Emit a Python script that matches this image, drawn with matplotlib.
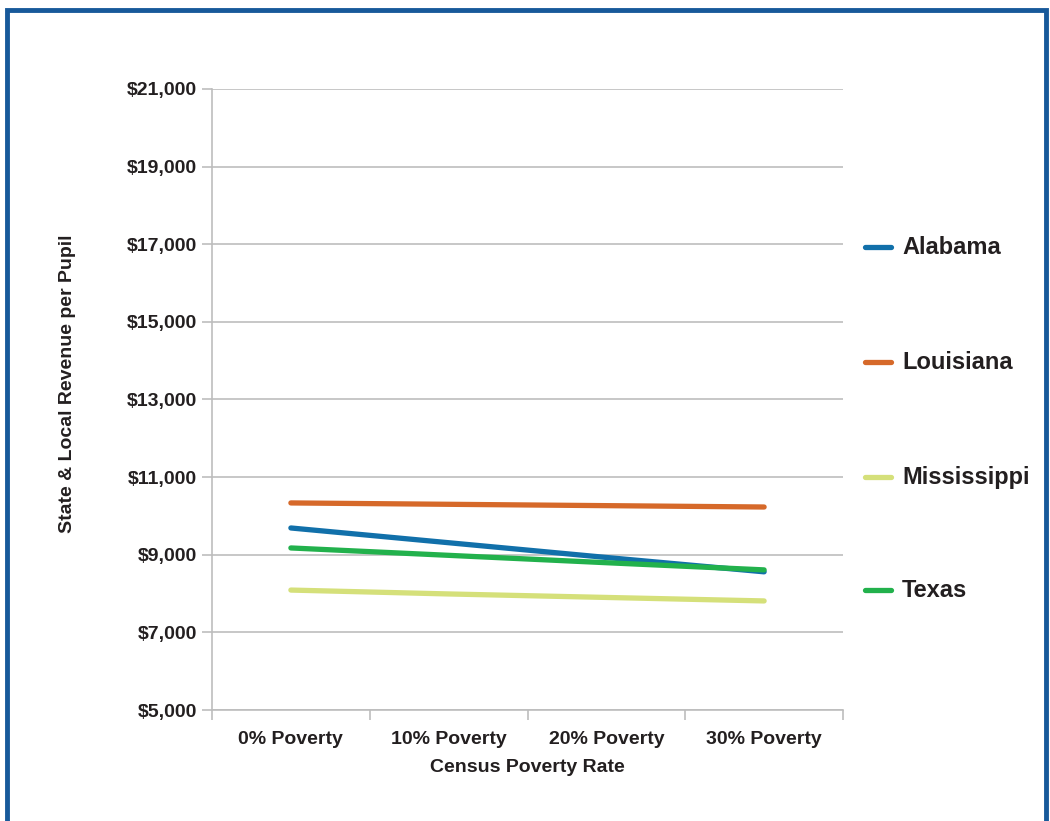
import matplotlib.pyplot as plt
from matplotlib.patches import Rectangle
from matplotlib.ticker import FuncFormatter

plt.rcParams['font.family'] = ['Liberation Sans', 'DejaVu Sans']

categories = ["0% Poverty", "10% Poverty", "20% Poverty", "30% Poverty"]
alabama = [9690, 9310, 8930, 8560]
louisiana = [10335, 10300, 10265, 10230]
mississippi = [8090, 7990, 7900, 7810]
texas = [9175, 8985, 8795, 8610]

series = [
    ("Alabama", alabama, "#1170aa"),
    ("Louisiana", louisiana, "#d6692a"),
    ("Mississippi", mississippi, "#d5e07a"),
    ("Texas", texas, "#22b14c"),
]

fig = plt.figure(figsize=(10.5, 8.21), dpi=100)
ax = fig.add_axes([212 / 1050, 1 - 710 / 821, 631 / 1050, 621 / 821])

x = list(range(len(categories)))
for name, vals, col in series:
    ax.plot(x, vals, color=col, lw=3.8, solid_capstyle='round', label=name)

ax.set_xlim(-0.5, len(categories) - 0.5)
ax.set_ylim(5000, 21000)
ax.set_yticks(range(5000, 21001, 2000))
ax.yaxis.set_major_formatter(FuncFormatter(lambda v, p: f"${v:,.0f}"))
ax.grid(axis='y', color='#bdbdbd', lw=1.2)
ax.set_axisbelow(True)

# category boundaries as ticks, labels at centers
ax.set_xticks([i - 0.5 for i in range(len(categories) + 1)])
ax.set_xticklabels([])
ax.set_xticks(x, minor=True)
ax.set_xticklabels(categories, minor=True, fontsize=14, fontweight='bold', color='#231f20')
ax.tick_params(axis='x', which='minor', length=0, pad=15)
ax.tick_params(axis='x', which='major', length=7, color='#bdbdbd', width=1.2)
ax.tick_params(axis='y', length=7, color='#bdbdbd', width=1.2, labelsize=14,
               labelcolor='#231f20', pad=4)
for lab in ax.get_yticklabels():
    lab.set_fontweight('bold')

for s in ['top', 'right']:
    ax.spines[s].set_visible(False)
for s in ['left', 'bottom']:
    ax.spines[s].set_color('#bdbdbd')
    ax.spines[s].set_linewidth(1.2)

ax.set_xlabel("Census Poverty Rate", fontsize=14, fontweight='bold', color='#231f20', labelpad=8)
ax.set_ylabel("State & Local Revenue per Pupil", fontsize=14, fontweight='bold',
              color='#231f20')
ax.yaxis.set_label_coords(-0.2155, 0.525)

# legend drawn to the right of the plot
leg_y = [247, 362, 477, 590]
for (name, vals, col), yy in zip(series, leg_y):
    fy = 1 - yy / 821
    fig.add_artist(plt.Line2D([865 / 1050, 891 / 1050], [fy, fy], color=col, lw=3.8,
                              solid_capstyle='round', transform=fig.transFigure))
    fig.text(902 / 1050, fy, name, fontsize=17, fontweight='bold', color='#231f20',
             va='center', ha='left')

# blue frame
fig.add_artist(Rectangle((7 / 1050, -0.05), 1039 / 1050, 1.05 - 10 / 821, fill=False,
                         edgecolor='#17599a', lw=3.5, transform=fig.transFigure))

fig.savefig("out.png", dpi=100)
